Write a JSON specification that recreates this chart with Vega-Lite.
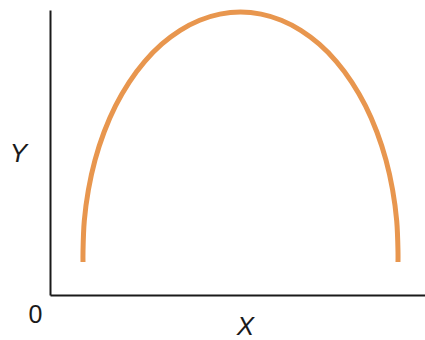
{
  "$schema": "https://vega.github.io/schema/vega-lite/v6.json",
  "width": 375,
  "height": 285,
  "autosize": "none",
  "padding": {"left": 50, "top": 10, "right": 0, "bottom": 45},
  "background": "white",
  "config": {"view": {"stroke": null}},
  "data": {
    "values": [
      {"i": 0, "x": 33.0, "y": 33},
      {"i": 1, "x": 33.0, "y": 43},
      {"i": 2, "x": 34.3, "y": 74.3},
      {"i": 3, "x": 38.4, "y": 105.1},
      {"i": 4, "x": 45.0, "y": 134.8},
      {"i": 5, "x": 54.1, "y": 163},
      {"i": 6, "x": 65.5, "y": 189.1},
      {"i": 7, "x": 79.1, "y": 212.7},
      {"i": 8, "x": 94.6, "y": 233.4},
      {"i": 9, "x": 111.7, "y": 250.8},
      {"i": 10, "x": 130.2, "y": 264.7},
      {"i": 11, "x": 149.7, "y": 274.8},
      {"i": 12, "x": 169.9, "y": 280.9},
      {"i": 13, "x": 190.5, "y": 283},
      {"i": 14, "x": 211.1, "y": 280.9},
      {"i": 15, "x": 231.3, "y": 274.8},
      {"i": 16, "x": 250.8, "y": 264.7},
      {"i": 17, "x": 269.3, "y": 250.8},
      {"i": 18, "x": 286.4, "y": 233.4},
      {"i": 19, "x": 301.9, "y": 212.7},
      {"i": 20, "x": 315.5, "y": 189.1},
      {"i": 21, "x": 326.9, "y": 163},
      {"i": 22, "x": 336.0, "y": 134.8},
      {"i": 23, "x": 342.6, "y": 105.1},
      {"i": 24, "x": 346.7, "y": 74.3},
      {"i": 25, "x": 348.0, "y": 43},
      {"i": 26, "x": 348.0, "y": 33}
    ]
  },
  "mark": {"type": "line", "color": "#E8964E", "strokeWidth": 5, "interpolate": "catmull-rom", "strokeCap": "butt"},
  "encoding": {
    "order": {"field": "i", "type": "quantitative"},
    "x": {
      "field": "x", "type": "quantitative",
      "scale": {"domain": [0, 375], "nice": false, "zero": false},
      "axis": {
        "domain": true, "domainColor": "#1a1a1a", "domainWidth": 2,
        "ticks": false, "grid": false,
        "values": [0], "labelExpr": "'0'", "labelFlush": false, "labelOverlap": false,
        "labelFont": "Liberation Sans", "labelFontSize": 25, "labelColor": "#1a1a1a",
        "labelAlign": "center", "labelBaseline": "middle", "labelOffset": -15, "labelPadding": 19,
        "title": "X", "titleFont": "Liberation Sans", "titleFontStyle": "italic", "titleFontWeight": "normal",
        "titleFontSize": 26, "titleColor": "#1a1a1a",
        "titleX": 195, "titleY": 31, "titleAlign": "center", "titleBaseline": "middle"
      }
    },
    "y": {
      "field": "y", "type": "quantitative",
      "scale": {"domain": [0, 285], "nice": false, "zero": false},
      "axis": {
        "domain": true, "domainColor": "#1a1a1a", "domainWidth": 2,
        "ticks": false, "grid": false, "labels": false,
        "title": "Y", "titleFont": "Liberation Sans", "titleFontStyle": "italic", "titleFontWeight": "normal",
        "titleFontSize": 26, "titleColor": "#1a1a1a", "titleAngle": 0,
        "titleX": -32, "titleY": 143, "titleAlign": "center", "titleBaseline": "middle"
      }
    }
  }
}
